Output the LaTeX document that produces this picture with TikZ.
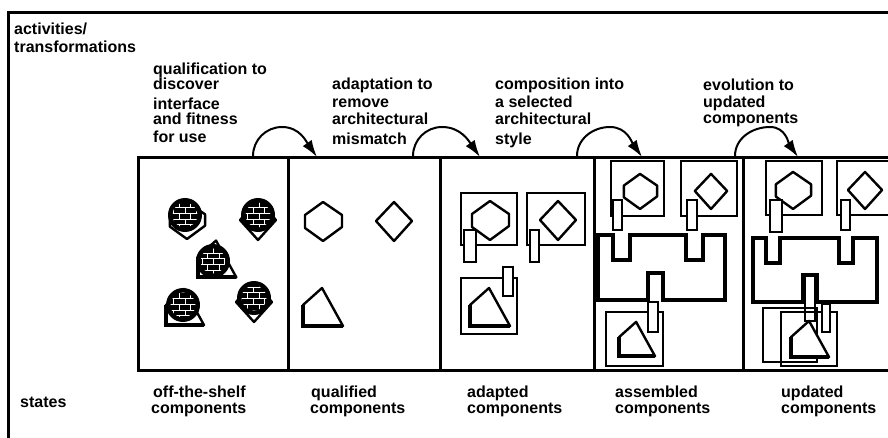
\documentclass[tikz,border=0pt]{standalone}
\usepackage{fontspec}
\setmainfont{Liberation Sans}
\usetikzlibrary{arrows.meta,patterns}
\tikzset{
  lbl/.style={font=\bfseries\fontsize{16}{18}\selectfont, inner sep=0pt, anchor=base west},
  frame/.style={line width=3pt},
  cellbox/.style={draw, line width=2.6pt},
  sq/.style={draw, fill=white, line width=1.8pt},
  plug/.style={draw, fill=white, line width=1.8pt},
  shp/.style={draw, fill=white, line width=2.4pt, line join=round},
  bus/.style={draw, line width=4.2pt, line join=miter},
  arc/.style={line width=2pt, -{Latex[length=17pt,width=11pt]}},
  hexshape/.pic={\draw[shp] (0,-19) -- (19,-6) -- (19,6) -- (0,20) -- (-18,7) -- (-18,-6) -- cycle;},
  diashape/.pic={\draw[shp] (0,-19) -- (18,0) -- (0,20) -- (-18,0) -- cycle;},
  trishape/.pic={\draw[shp] (-1,-19) -- (20,19) -- (-20,19) -- (-20,-2) -- cycle;
                 \draw[line width=4pt] (-20,-2) -- (-20,19) -- (20,19);},
  blob/.pic={\fill[black] (0,0) circle (17);
             \fill[pattern=bricks, pattern color=white] (0,0) circle (12.5);}
}
\begin{document}
\begin{tikzpicture}[x=1pt,y=-1pt]
\clip (0,0) rectangle (888,438);
\fill[white] (0,0) rectangle (888,438);
% outer frame
\draw[frame] (8,445) -- (8,13) -- (895,13);
% state cells
\node[cellbox, minimum width=150pt, minimum height=213pt, inner sep=0pt, anchor=north west] (c1) at (137,156) {};
\node[cellbox, minimum width=152pt, minimum height=213pt, inner sep=0pt, anchor=north west] (c2) at (287,156) {};
\node[cellbox, minimum width=154pt, minimum height=213pt, inner sep=0pt, anchor=north west] (c3) at (439,156) {};
\node[cellbox, minimum width=149pt, minimum height=213pt, inner sep=0pt, anchor=north west] (c4) at (593,156) {};
\node[cellbox, minimum width=160pt, minimum height=213pt, inner sep=0pt, anchor=north west] (c5) at (742,156) {};

% header texts
\node[lbl] (h1) at (14,35) {activities/};
\node[lbl] (h2) at (14,53) {transformations};

\node[lbl] (q1) at (153,75) {qualification to};
\node[lbl] (q2) at (153,90) {discover};
\node[lbl] (q3) at (153,110) {interface};
\node[lbl] (q4) at (153,125) {and fitness};
\node[lbl] (q5) at (153,143) {for use};

\node[lbl] (a1) at (332,90) {adaptation to};
\node[lbl] (a2) at (332,108) {remove};
\node[lbl] (a3) at (332,125) {architectural};
\node[lbl] (a4) at (332,145) {mismatch};

\node[lbl] (p1) at (495,90) {composition into};
\node[lbl] (p2) at (495,108) {a selected};
\node[lbl] (p3) at (495,125) {architectural};
\node[lbl] (p4) at (495,145) {style};

\node[lbl] (e1) at (703,91) {evolution to};
\node[lbl] (e2) at (703,108) {updated};
\node[lbl] (e3) at (703,124) {components};

% state texts
\node[lbl] (s0) at (20,407) {states};
\node[lbl] (s1a) at (153,397) {off-the-shelf};
\node[lbl] (s1b) at (151,413) {components};
\node[lbl] (s2a) at (311,397) {qualified};
\node[lbl] (s2b) at (310,413) {components};
\node[lbl] (s3a) at (467,397) {adapted};
\node[lbl] (s3b) at (467,413) {components};
\node[lbl] (s4a) at (615,397) {assembled};
\node[lbl] (s4b) at (615,413) {components};
\node[lbl] (s5a) at (781,397) {updated};
\node[lbl] (s5b) at (781,413) {components};

% arrows
\coordinate (r1s) at (253,156); \coordinate (r1p) at (282,127); \coordinate (r1e) at (317,157);
\coordinate (r2s) at (413,156); \coordinate (r2p) at (442,127); \coordinate (r2e) at (480,157);
\coordinate (r3s) at (577,156); \coordinate (r3p) at (610,127); \coordinate (r3e) at (642,157);
\coordinate (r4s) at (735,156); \coordinate (r4p) at (770,127); \coordinate (r4e) at (798,157);
\draw[arc] (r1s) to[out=90,in=180] (r1p) to[out=0,in=125] (r1e);
\draw[arc] (r2s) to[out=90,in=180] (r2p) to[out=0,in=125] (r2e);
\draw[arc] (r3s) to[out=90,in=180] (r3p) to[out=0,in=125] (r3e);
\draw[arc] (r4s) to[out=90,in=180] (r4p) to[out=0,in=125] (r4e);

% cell 1: off-the-shelf (raw, hatched)
\pic[scale=0.95] at (187,220) {hexshape};
\pic at (185,215) {blob};
\pic at (258,220) {diashape};
\pic at (258,215) {blob};
\pic[scale=0.97] at (217,259) {trishape};
\pic at (213,261) {blob};
\pic[scale=0.95] at (185,307) {trishape};
\pic at (183,305) {blob};
\pic at (254,302) {diashape};
\pic at (254,298) {blob};

% cell 2: qualified
\pic at (323,221) {hexshape};
\pic at (394,221) {diashape};
\pic at (323,307) {trishape};

% cell 3: adapted
\draw[sq] (461,193) rectangle (517,245);
\pic at (490,220) {hexshape};
\draw[plug] (464,230) rectangle (476,262);
\draw[sq] (527,193) rectangle (585,245);
\pic at (558,220) {diashape};
\draw[plug] (530,230) rectangle (539,262);
\draw[sq] (461,278) rectangle (517,334);
\pic at (490,307) {trishape};
\draw[plug] (503,267) rectangle (513,296);

% cell 4: assembled
\draw[sq] (611,161) rectangle (664,216);
\pic[scale=0.9] at (640,191) {hexshape};
\draw[plug] (613,200) rectangle (622,230);
\draw[sq] (681,161) rectangle (737,216);
\pic[scale=0.9] at (711,191) {diashape};
\draw[plug] (687,200) rectangle (697,230);
\draw[bus] (598,235) -- (613,235) -- (613,260) -- (630,260) -- (630,235) -- (686,235) -- (686,260) -- (703,260) -- (703,235) -- (725,235) -- (725,300) -- (663,300) -- (663,273) -- (648,273) -- (648,300) -- (598,300) -- cycle;
\draw[sq] (606,312) rectangle (663,366);
\pic[scale=0.9] at (637,339) {trishape};
\draw[plug] (648,302) rectangle (658,332);

% cell 5: updated
\draw[sq] (766,161) rectangle (822,215);
\pic[scale=0.95] at (793,190) {hexshape};
\draw[plug] (770,200) rectangle (782,232);
\draw[sq] (837,161) rectangle (895,215);
\pic[scale=0.95] at (865,190) {diashape};
\draw[plug] (841,200) rectangle (850,230);
\draw[bus] (753,238) -- (766,238) -- (766,263) -- (780,263) -- (780,238) -- (839,238) -- (839,263) -- (853,263) -- (853,238) -- (877,238) -- (877,302) -- (817,302) -- (817,275) -- (803,275) -- (803,302) -- (753,302) -- cycle;
\draw[sq, line width=2.4pt] (763,308) rectangle (817,362);
\draw[sq, fill=none] (781,312) rectangle (837,366);
\pic[scale=0.95] at (810,339) {trishape};
\draw[line width=1.5pt] (805,275) rectangle (815,321);
\draw[plug] (822,304) rectangle (830,332);
\end{tikzpicture}
\end{document}
